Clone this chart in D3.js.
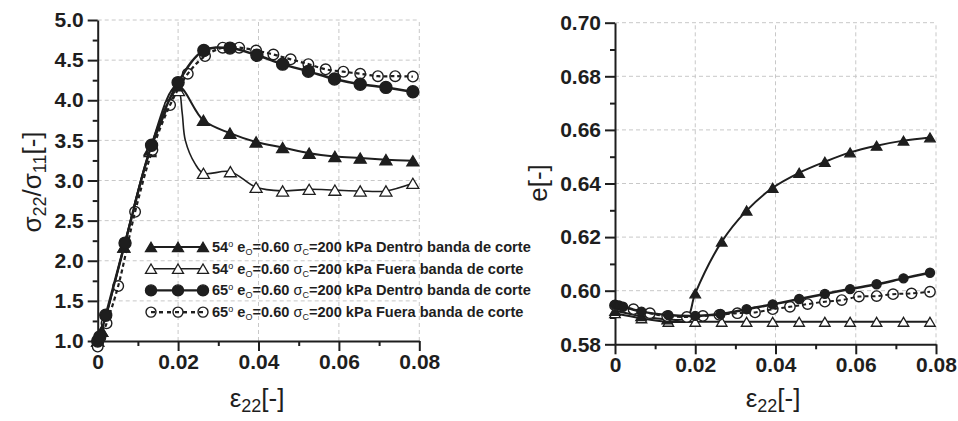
<!DOCTYPE html>
<html>
<head>
<meta charset="utf-8">
<script src="https://cdn.jsdelivr.net/npm/d3@7"></script>
<style>
  body { margin: 0; background: #fff; }
  svg { display: block; font-family: 'Liberation Sans', Arial, sans-serif; }
</style>
</head>
<body>
<svg id="chart" width="958" height="421"></svg>
<script>
// ---- data ----
// left panel: stress ratio vs strain
const in54X = [0, 0.001, 0.0065, 0.013, 0.0198, 0.0263, 0.0329, 0.0394, 0.046, 0.0526, 0.059, 0.0653, 0.0717, 0.0784];
const in54Y = [1.0, 1.12, 2.17, 3.38, 4.18, 3.75, 3.59, 3.48, 3.41, 3.34, 3.30, 3.28, 3.26, 3.245];
const out54X = [0, 0.001, 0.0065, 0.013, 0.0201, 0.0263, 0.033, 0.0394, 0.046, 0.0526, 0.059, 0.0653, 0.0717, 0.0784];
const out54Y = [1.0, 1.12, 2.17, 3.36, 4.12, 3.09, 3.11, 2.915, 2.87, 2.89, 2.88, 2.87, 2.87, 2.965];
const out54KnotX = [0.021, 0.0218, 0.0242];   // line only, no marker
const out54KnotY = [3.85, 3.5, 3.21];
const in65X = [0, 0.0005, 0.002, 0.0068, 0.0134, 0.020, 0.0264, 0.0329, 0.0396, 0.046, 0.0524, 0.0589, 0.0653, 0.0717, 0.0784];
const in65Y = [1.0, 1.05, 1.32, 2.22, 3.44, 4.22, 4.62, 4.65, 4.56, 4.45, 4.36, 4.265, 4.20, 4.16, 4.105];
const out65X = [0, 0.0022, 0.0051, 0.0093, 0.0136, 0.018, 0.0224, 0.0267, 0.0311, 0.0352, 0.0394, 0.0437, 0.048, 0.0524, 0.0567, 0.0611, 0.0653, 0.0697, 0.074, 0.0784];
const out65Y = [0.93, 1.22, 1.685, 2.61, 3.38, 3.94, 4.33, 4.55, 4.655, 4.655, 4.62, 4.57, 4.51, 4.45, 4.385, 4.356, 4.33, 4.30, 4.30, 4.295];

// right panel: void ratio vs strain
const in54eX = [0, 0.0065, 0.013, 0.02, 0.0266, 0.0328, 0.0393, 0.0459, 0.0523, 0.0586, 0.0652, 0.0719, 0.0785];
const in54eY = [0.5925, 0.5905, 0.5893, 0.599, 0.6183, 0.6299, 0.6384, 0.644, 0.6481, 0.6516, 0.6541, 0.656, 0.6572];
const in54eKnotX = [0.0179];
const in54eKnotY = [0.5898];
const out54eX = [0, 0.0066, 0.0133, 0.02, 0.0266, 0.0328, 0.0393, 0.0459, 0.0523, 0.0586, 0.0652, 0.0719, 0.0785];
const out54eY = [0.5916, 0.5897, 0.5884, 0.5884, 0.5884, 0.5884, 0.5884, 0.5884, 0.5884, 0.5884, 0.5884, 0.5884, 0.5884];
const in65eX = [0, 0.001, 0.002, 0.0066, 0.0133, 0.02, 0.0263, 0.0328, 0.0393, 0.0459, 0.0523, 0.0586, 0.0652, 0.0719, 0.0785];
const in65eY = [0.5947, 0.5945, 0.594, 0.5922, 0.5909, 0.5906, 0.5913, 0.5931, 0.5949, 0.5969, 0.5988, 0.6006, 0.6024, 0.6046, 0.6067];
const out65eX = [0, 0.0046, 0.0087, 0.013, 0.0179, 0.0219, 0.026, 0.0305, 0.0349, 0.0393, 0.0436, 0.048, 0.0523, 0.0565, 0.0608, 0.0652, 0.0693, 0.0739, 0.0785];
const out65eY = [0.5945, 0.5931, 0.5916, 0.5905, 0.5902, 0.5906, 0.591, 0.5916, 0.5919, 0.5931, 0.594, 0.595, 0.5959, 0.5965, 0.5978, 0.598, 0.5987, 0.599, 0.5996];

const xTicks = [0, 0.02, 0.04, 0.06, 0.08];
const xMinor = [0.01, 0.03, 0.05, 0.07];
const leftYTicks = [1.0, 1.5, 2.0, 2.5, 3.0, 3.5, 4.0, 4.5, 5.0];
const leftYMinor = [1.25, 1.75, 2.25, 2.75, 3.25, 3.75, 4.25, 4.75];
const rightYTicks = [0.58, 0.60, 0.62, 0.64, 0.66, 0.68, 0.70];
const rightYMinor = [0.59, 0.61, 0.63, 0.65, 0.67, 0.69];

const legendLabels = [
  {deg: '54', txt: 'Dentro banda de corte', mk: 'triFill'},
  {deg: '54', txt: 'Fuera banda de corte', mk: 'triOpen'},
  {deg: '65', txt: 'Dentro banda de corte', mk: 'dotFill'},
  {deg: '65', txt: 'Fuera banda de corte', mk: 'dotOpen'},
];

const ink = '#1e1e1e';
const svg = d3.select('#chart');

const zip = (xs, ys) => xs.map((x, i) => [x, ys[i]]);

const marker = (g, type, cx, cy, sz) => {
  if (type == 'triFill' || type == 'triOpen') {
    const w = sz.tri, h = sz.tri*0.85;
    g.append('path')
        .attr('d', `M${cx-w/2},${cy+h/2}L${cx},${cy-h/2}L${cx+w/2},${cy+h/2}Z`)
        .style('fill', type == 'triFill' ? ink : '#fff')
        .style('stroke', ink)
        .style('stroke-width', 1.3)
        .style('stroke-linejoin', 'miter');
  } else {
    g.append('circle')
        .attr('cx', cx).attr('cy', cy)
        .attr('r', type == 'dotFill' ? sz.dot : sz.ring)
        .style('fill', type == 'dotFill' ? ink : '#fff')
        .style('stroke', ink)
        .style('stroke-width', 1.4);
  }
};

const panel = (opt) => {
  const g = svg.append('g');
  const x = d3.scaleLinear().domain([0, 0.08]).range(opt.xr);
  const y = d3.scaleLinear().domain(opt.yd).range(opt.yr);

  // grid
  const grid = g.append('g').style('stroke', '#c8c8c8').style('stroke-width', 1).style('stroke-dasharray', '4,3');
  xTicks.slice(1).forEach((t)=>{
    grid.append('line').attr('x1', x(t)).attr('x2', x(t)).attr('y1', opt.yr[0]).attr('y2', opt.yr[1]);
  });
  opt.yTicks.slice(1).forEach((t)=>{
    grid.append('line').attr('x1', opt.xr[0]).attr('x2', opt.xr[1]).attr('y1', y(t)).attr('y2', y(t));
  });

  // axes
  const xAx = g.append('g').attr('transform', `translate(0,${opt.yr[0]})`)
      .call(d3.axisBottom(x).tickValues(xTicks).tickSizeInner(10).tickSizeOuter(0).tickPadding(3)
          .tickFormat((d)=>d == 0 ? '0' : d3.format('.2f')(d)));
  g.append('g').attr('transform', `translate(0,${opt.yr[0]})`)
      .call(d3.axisBottom(x).tickValues(xMinor).tickSize(5).tickFormat(''))
      .select('.domain').remove();
  const yAx = g.append('g').attr('transform', `translate(${opt.xr[0]},0)`)
      .call(d3.axisLeft(y).tickValues(opt.yTicks).tickSizeInner(10).tickSizeOuter(0).tickPadding(4)
          .tickFormat(d3.format(opt.yFmt)));
  g.append('g').attr('transform', `translate(${opt.xr[0]},0)`)
      .call(d3.axisLeft(y).tickValues(opt.yMinor).tickSize(5).tickFormat(''))
      .select('.domain').remove();
  g.selectAll('.domain, .tick line').style('stroke', ink).style('stroke-width', 2);
  [xAx, yAx].forEach((a)=>{
    a.selectAll('text').style('font-size', '21px').style('font-weight', 'bold').style('fill', ink)
        .style('font-family', "'Liberation Sans', Arial, sans-serif");
  });

  // series
  const plot = g.append('g');
  opt.series.forEach((s)=>{
    const pts = zip(s.x, s.y);
    const linePts = pts.concat(s.kx ? zip(s.kx, s.ky) : []).sort((a, b)=>a[0]-b[0]);
    const line = d3.line().x((d)=>x(d[0])).y((d)=>y(d[1])).curve(d3.curveCatmullRom.alpha(0.5));
    const path = ()=>plot.append('path').attr('d', line(linePts))
        .style('fill', 'none').style('stroke', ink).style('stroke-width', s.lw)
        .style('stroke-dasharray', s.dash || null);
    if (!s.dash) path();
    pts.forEach((p)=>marker(plot, s.mk, x(p[0]), y(p[1]), opt.sz));
    if (s.dash) path();
  });
  return {g, x, y};
};

const left = panel({
  xr: [97.7, 419.3], yd: [1, 5], yr: [341, 20],
  yTicks: leftYTicks, yMinor: leftYMinor, yFmt: '.1f',
  sz: {tri: 12, dot: 6, ring: 5.3},
  series: [
    {x: out54X, y: out54Y, kx: out54KnotX, ky: out54KnotY, mk: 'triOpen', lw: 1.6},
    {x: in54X, y: in54Y, mk: 'triFill', lw: 2},
    {x: out65X, y: out65Y, mk: 'dotOpen', lw: 2.2, dash: '4,3'},
    {x: in65X, y: in65Y, mk: 'dotFill', lw: 2.5},
  ],
});

const right = panel({
  xr: [615, 936], yd: [0.58, 0.70], yr: [344.3, 22.7],
  yTicks: rightYTicks, yMinor: rightYMinor, yFmt: '.2f',
  sz: {tri: 10.5, dot: 4.5, ring: 5.2},
  series: [
    {x: out54eX, y: out54eY, mk: 'triOpen', lw: 2},
    {x: in54eX, y: in54eY, kx: in54eKnotX, ky: in54eKnotY, mk: 'triFill', lw: 2},
    {x: out65eX, y: out65eY, mk: 'dotOpen', lw: 2, dash: '4,3'},
    {x: in65eX, y: in65eY, mk: 'dotFill', lw: 2.5},
  ],
});

// axis titles
const title = (tx, ty, rot, parts) => {
  const t = svg.append('text')
      .attr('transform', `translate(${tx},${ty})${rot ? ' rotate(-90)' : ''}`)
      .attr('text-anchor', 'middle')
      .style('font-size', '26px').style('fill', ink);
  parts.forEach((p)=>{
    const s = t.append('tspan').text(p[0]);
    if (p[1] == 'sub') s.style('font-size', '18px').attr('dy', 5);
    if (p[1] == 'up') s.attr('dy', -5);
  });
};
title(41, 182, true, [['σ'], ['22', 'sub'], ['/', 'up'], ['σ'], ['11', 'sub'], ['[-]', 'up']]);
title(257, 407, false, [['ε'], ['22', 'sub'], ['[-]', 'up']]);
title(773, 407, false, [['ε'], ['22', 'sub'], ['[-]', 'up']]);
title(547, 183, true, [['e[-]']]);

// legend
const lg = svg.append('g');
legendLabels.forEach((d, i)=>{
  const yy = 247 + i*21.7;
  lg.append('line').attr('x1', 151).attr('x2', 203).attr('y1', yy).attr('y2', yy)
      .style('stroke', ink).style('stroke-width', d.mk == 'triOpen' ? 1.6 : 2.2)
      .style('stroke-dasharray', d.mk == 'dotOpen' ? '4,4' : null);
  [151, 178, 203].forEach((mx)=>marker(lg, d.mk, mx, yy, {tri: 11, dot: 5.5, ring: 5}));
  if (d.mk == 'dotOpen') {
    lg.append('line').attr('x1', 151).attr('x2', 203).attr('y1', yy).attr('y2', yy)
        .style('stroke', ink).style('stroke-width', 2.2).style('stroke-dasharray', '4,4');
  }
  const t = lg.append('text').attr('x', 212).attr('y', yy + 5)
      .style('font-size', '14.6px').style('font-weight', 'bold').style('fill', ink);
  t.append('tspan').text(d.deg);
  t.append('tspan').text('o').style('font-size', '9px').style('font-weight', 'normal').attr('dy', -5);
  t.append('tspan').text(' e').attr('dy', 5);
  t.append('tspan').text('O').style('font-size', '9px').style('font-weight', 'normal').attr('dy', 3);
  t.append('tspan').text('=0.60 ').attr('dy', -3);
  t.append('tspan').text('σ').style('font-weight', 'normal');
  t.append('tspan').text('C').style('font-size', '9px').style('font-weight', 'normal').attr('dy', 3);
  t.append('tspan').text('=200 kPa ' + d.txt).attr('dy', -3);
});
</script>
</body>
</html>
